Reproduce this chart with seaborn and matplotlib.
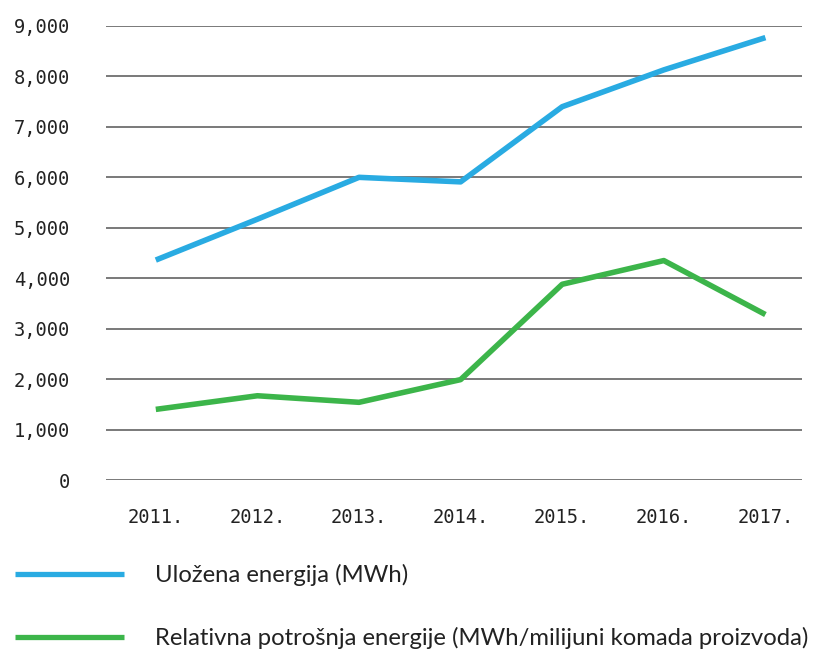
import pandas as pd
import seaborn as sns
import matplotlib.pyplot as plt
from matplotlib.ticker import FuncFormatter

# podaci
godine = ['2011.', '2012.', '2013.', '2014.', '2015.', '2016.', '2017.']
ulozena_energija = [4360, 5170, 6000, 5910, 7400, 8130, 8770]
relativna_potrosnja = [1400, 1670, 1540, 1990, 3880, 4350, 3280]
serije = ['Uložena energija (MWh)',
          'Relativna potrošnja energije (MWh/milijuni komada proizvoda)']
boje = ['#29abe2', '#3cb54a']


def main():
    df = pd.DataFrame({
        'godina': godine * 2,
        'vrijednost': ulozena_energija + relativna_potrosnja,
        'serija': [serije[0]] * len(godine) + [serije[1]] * len(godine),
    })

    sns.set_style('white')
    fig = plt.figure(figsize=(8.16, 6.52), dpi=100)
    ax = fig.add_axes([106 / 816, 1 - 480 / 652, 696 / 816, 454 / 652])

    sns.lineplot(data=df, x='godina', y='vrijednost', hue='serija',
                 palette=boje, linewidth=4, sort=False, ax=ax,
                 solid_capstyle='butt')

    ax.set_ylim(0, 9000)
    ax.set_xlim(-0.49, 6.36)
    ax.set_yticks(range(0, 9001, 1000))
    ax.yaxis.set_major_formatter(FuncFormatter(lambda v, p: f'{int(v):,}'))
    ax.grid(axis='y', color='#555555', linewidth=1.1)
    ax.grid(axis='x', visible=False)
    for s in ax.spines.values():
        s.set_visible(False)
    ax.tick_params(axis='y', length=0, pad=26, labelsize=13.5, labelcolor='#222222')
    ax.tick_params(axis='x', length=0, pad=20, labelsize=13.5, labelcolor='#222222')
    for lab in ax.get_xticklabels() + ax.get_yticklabels():
        lab.set_family('DejaVu Sans Mono')
    ax.set_xlabel('')
    ax.set_ylabel('')

    handles, labels = ax.get_legend_handles_labels()
    ax.get_legend().remove()
    leg = fig.legend(handles, labels, loc='upper left',
                     bbox_to_anchor=(15 / 816, 1 - 564 / 652),
                     frameon=False, borderpad=0, borderaxespad=0,
                     handlelength=4.56, handletextpad=1.28, labelspacing=1.72,
                     prop={'family': 'Lato', 'size': 17.2})
    for t in leg.get_texts():
        t.set_color('#222222')
    for l in leg.get_lines():
        l.set_linewidth(3.8)
        l.set_solid_capstyle('butt')

    fig.savefig('out.png', dpi=100)


if __name__ == '__main__':
    main()
